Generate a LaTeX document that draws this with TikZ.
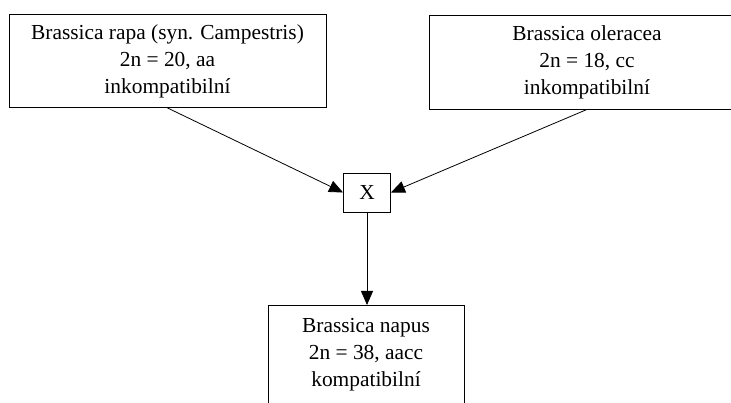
\documentclass[tikz,border=0pt]{standalone}
\usepackage{fontspec}
\setmainfont{Liberation Serif}
\usetikzlibrary{arrows.meta}

\tikzset{
    krabice/.style={draw, line width=0.9pt, align=center, inner sep=0pt,
        font=\fontsize{21.4}{27}\selectfont},
    sipka/.style={line width=0.8pt, -{Triangle[length=14pt, width=12pt]}}
}

\begin{document}
\begin{tikzpicture}[x=1pt, y=1pt]
        \useasboundingbox (0,0) rectangle (731,-403);

        % Rodičovské druhy
        \node[krabice, minimum width=317pt, minimum height=93pt] (rapa) at (167.5,-61)
            {Brassica rapa (syn. Campestris)\\2n = 20, aa\\inkompatibilní};
        \node[krabice, minimum width=316pt, minimum height=94pt] (oleracea) at (587,-62)
            {Brassica oleracea\\2n = 18, cc\\inkompatibilní};

        % Křížení
        \node[krabice, minimum width=47pt, minimum height=39pt] (krizeni) at (367,-192.5) {X};

        % Výsledný druh (spodní okraj je oříznutý)
        \node[krabice, anchor=north, minimum width=196pt, inner ysep=13pt, text depth=40pt] (napus)
            at (366,-305) {Brassica napus\\2n = 38, aacc\\kompatibilní};

        % Šipky
        \draw[sipka] (rapa.south) -- (krizeni.west);
        \draw[sipka] (oleracea.south) -- (krizeni.east);
        \draw[sipka] (krizeni.south) -- (krizeni.south |- napus.north);
    \end{tikzpicture}
\end{document}
